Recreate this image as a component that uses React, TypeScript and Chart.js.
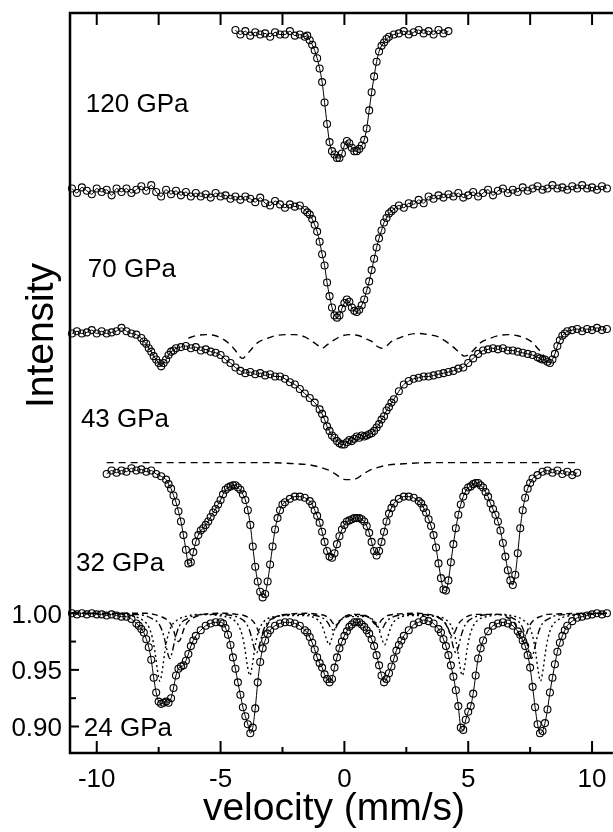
import React, { useEffect, useRef } from 'react';
import { Chart, registerables } from 'chart.js';

Chart.register(...registerables);

const FONT = '"Liberation Sans", Arial, Helvetica, sans-serif';

const X_RANGE = [-11.08, 10.64];
const Y_RANGE = [0.8766, 1.53];
const X_TICKS = [-10, -5, 0, 5, 10];
const X_MINOR = [-7.5, -2.5, 2.5, 7.5];
const Y_TICKS = [1.0, 0.95, 0.9];
const Y_MINOR = [0.975, 0.925];

const LABELS = ['120 GPa', '70 GPa', '43 GPa', '32 GPa', '24 GPa'];
const LABEL_V = [-10.44, -10.36, -10.64, -10.84, -10.52];
const LABEL_I = [1.4514, 1.3049, 1.1724, 1.0461, 0.8996];

// 120 GPa spectrum (velocity mm/s, intensity)
const P120: [number, number][] = [
  [-4.4, 1.515], [-4.2, 1.511], [-4.0, 1.514], [-3.8, 1.510], [-3.6, 1.513], [-3.4, 1.511], [-3.2, 1.512],
  [-3.0, 1.509], [-2.8, 1.513], [-2.6, 1.511], [-2.4, 1.511], [-2.2, 1.514], [-2.0, 1.510], [-1.8, 1.511],
  [-1.6, 1.509], [-1.5, 1.510], [-1.4, 1.506], [-1.3, 1.502], [-1.2, 1.497], [-1.1, 1.490], [-1.0, 1.481],
  [-0.9, 1.469], [-0.8, 1.451], [-0.7, 1.432], [-0.6, 1.416], [-0.5, 1.408], [-0.4, 1.405], [-0.3, 1.402],
  [-0.2, 1.402], [-0.1, 1.406], [0.0, 1.413], [0.1, 1.417], [0.2, 1.415], [0.3, 1.411], [0.4, 1.408],
  [0.5, 1.408], [0.6, 1.410], [0.7, 1.413], [0.8, 1.418], [0.9, 1.428], [1.0, 1.444], [1.1, 1.460],
  [1.2, 1.474], [1.3, 1.487], [1.4, 1.496], [1.5, 1.501], [1.6, 1.504], [1.7, 1.507], [1.8, 1.509],
  [2.0, 1.511], [2.2, 1.512], [2.4, 1.514], [2.6, 1.511], [2.8, 1.513], [3.0, 1.515], [3.2, 1.512],
  [3.4, 1.514], [3.6, 1.511], [3.8, 1.515], [4.0, 1.512], [4.2, 1.514],
];

// 70 GPa spectrum
const P70: [number, number][] = [
  [-11.0, 1.375], [-10.8, 1.371], [-10.6, 1.376], [-10.4, 1.373], [-10.2, 1.370], [-10.0, 1.375], [-9.8, 1.372],
  [-9.6, 1.374], [-9.4, 1.369], [-9.2, 1.375], [-9.0, 1.372], [-8.8, 1.375], [-8.6, 1.371], [-8.4, 1.374],
  [-8.2, 1.377], [-8.0, 1.373], [-7.8, 1.378], [-7.6, 1.372], [-7.4, 1.368], [-7.2, 1.374], [-7.0, 1.370],
  [-6.8, 1.373], [-6.6, 1.369], [-6.4, 1.372], [-6.2, 1.368], [-6.0, 1.371], [-5.8, 1.368], [-5.6, 1.370],
  [-5.4, 1.367], [-5.2, 1.371], [-5.0, 1.368], [-4.8, 1.369], [-4.6, 1.366], [-4.4, 1.368], [-4.2, 1.365],
  [-4.0, 1.368], [-3.8, 1.366], [-3.6, 1.363], [-3.4, 1.367], [-3.2, 1.362], [-3.0, 1.360], [-2.8, 1.364],
  [-2.6, 1.361], [-2.4, 1.358], [-2.2, 1.361], [-2.0, 1.359], [-1.8, 1.360], [-1.6, 1.356], [-1.5, 1.354],
  [-1.4, 1.352], [-1.3, 1.348], [-1.2, 1.343], [-1.1, 1.337], [-1.0, 1.328], [-0.9, 1.317], [-0.8, 1.307],
  [-0.7, 1.292], [-0.6, 1.280], [-0.5, 1.270], [-0.4, 1.263], [-0.3, 1.261], [-0.2, 1.263], [-0.1, 1.269],
  [0.0, 1.274], [0.1, 1.277], [0.2, 1.275], [0.3, 1.270], [0.4, 1.267], [0.5, 1.266], [0.6, 1.268],
  [0.7, 1.272], [0.8, 1.277], [0.9, 1.285], [1.0, 1.293], [1.1, 1.303], [1.2, 1.313], [1.3, 1.323],
  [1.4, 1.331], [1.5, 1.338], [1.6, 1.345], [1.7, 1.349], [1.8, 1.353], [1.9, 1.355], [2.0, 1.357],
  [2.2, 1.360], [2.4, 1.358], [2.6, 1.362], [2.8, 1.361], [3.0, 1.365], [3.2, 1.362], [3.4, 1.368],
  [3.6, 1.366], [3.8, 1.369], [4.0, 1.367], [4.2, 1.370], [4.4, 1.368], [4.6, 1.371], [4.8, 1.367],
  [5.0, 1.369], [5.2, 1.372], [5.4, 1.368], [5.6, 1.371], [5.8, 1.374], [6.0, 1.369], [6.2, 1.373],
  [6.4, 1.375], [6.6, 1.371], [6.8, 1.374], [7.0, 1.372], [7.2, 1.376], [7.4, 1.373], [7.6, 1.375],
  [7.8, 1.377], [8.0, 1.374], [8.2, 1.375], [8.4, 1.378], [8.6, 1.375], [8.8, 1.376], [9.0, 1.374],
  [9.2, 1.377], [9.4, 1.375], [9.6, 1.378], [9.8, 1.375], [10.0, 1.376], [10.2, 1.374], [10.4, 1.377],
  [10.6, 1.375],
];

// 43 GPa spectrum
const P43: [number, number][] = [
  [-11.0, 1.247], [-10.8, 1.249], [-10.6, 1.247], [-10.4, 1.248], [-10.2, 1.250], [-10.0, 1.247], [-9.8, 1.249],
  [-9.6, 1.247], [-9.4, 1.248], [-9.2, 1.249], [-9.0, 1.252], [-8.8, 1.249], [-8.6, 1.247], [-8.4, 1.246],
  [-8.2, 1.243], [-8.1, 1.240], [-8.0, 1.238], [-7.9, 1.234], [-7.8, 1.231], [-7.7, 1.227], [-7.6, 1.224],
  [-7.5, 1.221], [-7.4, 1.218], [-7.3, 1.221], [-7.2, 1.224], [-7.1, 1.228], [-7.0, 1.231], [-6.9, 1.232],
  [-6.8, 1.234], [-6.6, 1.235], [-6.4, 1.236], [-6.2, 1.234], [-6.0, 1.235], [-5.8, 1.232], [-5.6, 1.233],
  [-5.4, 1.231], [-5.2, 1.230], [-5.0, 1.228], [-4.8, 1.224], [-4.6, 1.221], [-4.4, 1.217], [-4.2, 1.214],
  [-4.0, 1.212], [-3.8, 1.213], [-3.6, 1.211], [-3.4, 1.212], [-3.2, 1.210], [-3.0, 1.211], [-2.8, 1.209],
  [-2.6, 1.209], [-2.4, 1.207], [-2.2, 1.204], [-2.0, 1.202], [-1.8, 1.198], [-1.6, 1.194], [-1.4, 1.190],
  [-1.2, 1.186], [-1.0, 1.180], [-0.9, 1.176], [-0.8, 1.171], [-0.7, 1.165], [-0.6, 1.161], [-0.5, 1.157],
  [-0.4, 1.155], [-0.3, 1.152], [-0.2, 1.150], [-0.1, 1.149], [0.0, 1.149], [0.1, 1.151], [0.2, 1.153],
  [0.3, 1.152], [0.4, 1.154], [0.5, 1.156], [0.6, 1.155], [0.7, 1.157], [0.8, 1.156], [0.9, 1.157],
  [1.0, 1.158], [1.1, 1.159], [1.2, 1.161], [1.3, 1.164], [1.4, 1.167], [1.5, 1.171], [1.6, 1.174],
  [1.7, 1.179], [1.8, 1.182], [1.9, 1.186], [2.0, 1.189], [2.2, 1.196], [2.4, 1.202], [2.6, 1.205],
  [2.8, 1.207], [3.0, 1.208], [3.2, 1.209], [3.4, 1.209], [3.6, 1.210], [3.8, 1.211], [4.0, 1.212],
  [4.2, 1.213], [4.4, 1.214], [4.6, 1.216], [4.8, 1.217], [5.0, 1.221], [5.2, 1.225], [5.4, 1.229],
  [5.6, 1.232], [5.8, 1.233], [6.0, 1.234], [6.2, 1.233], [6.4, 1.234], [6.6, 1.232], [6.8, 1.232],
  [7.0, 1.231], [7.2, 1.230], [7.4, 1.229], [7.6, 1.228], [7.8, 1.226], [7.9, 1.225], [8.0, 1.224],
  [8.1, 1.224], [8.2, 1.222], [8.3, 1.221], [8.4, 1.224], [8.5, 1.229], [8.6, 1.236], [8.7, 1.241],
  [8.8, 1.245], [8.9, 1.247], [9.0, 1.249], [9.2, 1.250], [9.4, 1.251], [9.6, 1.249], [9.8, 1.251],
  [10.0, 1.250], [10.2, 1.252], [10.4, 1.250], [10.6, 1.251],
];

// 43 GPa sub-spectrum (dashed)
const D43: [number, number][] = [
  [-6.3, 1.243], [-6.0, 1.245], [-5.6, 1.246], [-5.2, 1.245], [-4.9, 1.242], [-4.6, 1.237], [-4.4, 1.232],
  [-4.2, 1.226], [-4.1, 1.225], [-4.0, 1.227], [-3.8, 1.232], [-3.5, 1.239], [-3.2, 1.242], [-2.8, 1.245],
  [-2.4, 1.246], [-2.0, 1.246], [-1.6, 1.244], [-1.3, 1.240], [-1.1, 1.237], [-0.9, 1.234], [-0.7, 1.237],
  [-0.5, 1.240], [-0.2, 1.244], [0.2, 1.246], [0.6, 1.245], [0.9, 1.242], [1.1, 1.240], [1.3, 1.236],
  [1.5, 1.234], [1.7, 1.236], [1.9, 1.240], [2.2, 1.243], [2.6, 1.246], [3.0, 1.247], [3.4, 1.246],
  [3.8, 1.244], [4.1, 1.240], [4.4, 1.235], [4.65, 1.230], [4.85, 1.227], [5.0, 1.228], [5.2, 1.232],
  [5.5, 1.239], [5.8, 1.242], [6.2, 1.245], [6.6, 1.246], [7.0, 1.245], [7.3, 1.243], [7.6, 1.239],
  [7.8, 1.234], [8.0, 1.229], [8.1, 1.226],
];

// 32 GPa spectrum
const P32: [number, number][] = [
  [-9.6, 1.123], [-9.4, 1.126], [-9.2, 1.124], [-9.0, 1.126], [-8.8, 1.125], [-8.6, 1.128], [-8.4, 1.126],
  [-8.2, 1.127], [-8.0, 1.125], [-7.8, 1.126], [-7.6, 1.123], [-7.4, 1.121], [-7.2, 1.118], [-7.1, 1.114],
  [-7.0, 1.110], [-6.9, 1.104], [-6.8, 1.098], [-6.7, 1.090], [-6.6, 1.081], [-6.5, 1.069], [-6.4, 1.056],
  [-6.3, 1.044], [-6.2, 1.045], [-6.1, 1.054], [-6.0, 1.063], [-5.9, 1.069], [-5.8, 1.073], [-5.7, 1.075],
  [-5.6, 1.078], [-5.5, 1.081], [-5.4, 1.085], [-5.3, 1.089], [-5.2, 1.092], [-5.1, 1.096], [-5.0, 1.100],
  [-4.9, 1.105], [-4.8, 1.109], [-4.7, 1.111], [-4.6, 1.112], [-4.5, 1.113], [-4.4, 1.113], [-4.3, 1.111],
  [-4.2, 1.109], [-4.1, 1.105], [-4.0, 1.100], [-3.9, 1.091], [-3.8, 1.078], [-3.7, 1.059], [-3.6, 1.041],
  [-3.5, 1.028], [-3.4, 1.019], [-3.3, 1.014], [-3.2, 1.017], [-3.1, 1.028], [-3.0, 1.043], [-2.9, 1.059],
  [-2.8, 1.074], [-2.7, 1.084], [-2.6, 1.091], [-2.5, 1.096], [-2.4, 1.098], [-2.2, 1.101], [-2.0, 1.103],
  [-1.8, 1.103], [-1.6, 1.102], [-1.4, 1.099], [-1.3, 1.096], [-1.2, 1.091], [-1.1, 1.086], [-1.0, 1.080],
  [-0.9, 1.072], [-0.8, 1.063], [-0.7, 1.055], [-0.6, 1.050], [-0.5, 1.049], [-0.4, 1.053], [-0.3, 1.061],
  [-0.2, 1.068], [-0.1, 1.074], [0.0, 1.078], [0.1, 1.081], [0.2, 1.082], [0.3, 1.083], [0.4, 1.084],
  [0.5, 1.084], [0.6, 1.084], [0.7, 1.083], [0.8, 1.081], [0.9, 1.077], [1.0, 1.071], [1.1, 1.063],
  [1.2, 1.055], [1.3, 1.051], [1.4, 1.055], [1.5, 1.063], [1.6, 1.072], [1.7, 1.081], [1.8, 1.088],
  [1.9, 1.093], [2.0, 1.097], [2.2, 1.101], [2.4, 1.103], [2.6, 1.103], [2.8, 1.102], [3.0, 1.099],
  [3.1, 1.097], [3.2, 1.093], [3.3, 1.089], [3.4, 1.083], [3.5, 1.077], [3.6, 1.069], [3.7, 1.058],
  [3.8, 1.044], [3.9, 1.031], [4.0, 1.021], [4.1, 1.020], [4.2, 1.029], [4.3, 1.045], [4.4, 1.061],
  [4.5, 1.075], [4.6, 1.087], [4.7, 1.096], [4.8, 1.103], [4.9, 1.108], [5.0, 1.111], [5.1, 1.112],
  [5.2, 1.114], [5.3, 1.115], [5.4, 1.115], [5.5, 1.113], [5.6, 1.111], [5.7, 1.107], [5.8, 1.103],
  [5.9, 1.097], [6.0, 1.092], [6.1, 1.087], [6.2, 1.081], [6.3, 1.073], [6.4, 1.062], [6.5, 1.050],
  [6.6, 1.038], [6.7, 1.029], [6.8, 1.025], [6.9, 1.034], [7.0, 1.053], [7.1, 1.075], [7.2, 1.091],
  [7.3, 1.102], [7.4, 1.110], [7.5, 1.115], [7.6, 1.119], [7.8, 1.122], [8.0, 1.125], [8.2, 1.126],
  [8.4, 1.124], [8.6, 1.126], [8.8, 1.123], [9.0, 1.125], [9.2, 1.122], [9.4, 1.124],
];

// 32 GPa sub-spectrum (dashed)
const D32: [number, number][] = [
  [-9.6, 1.133], [-6.0, 1.133], [-3.0, 1.133], [-2.0, 1.132], [-1.4, 1.131], [-1.0, 1.129], [-0.6, 1.126],
  [-0.3, 1.122], [-0.1, 1.119], [0.1, 1.118], [0.3, 1.118], [0.5, 1.119], [0.7, 1.122], [1.0, 1.126],
  [1.4, 1.129], [1.8, 1.131], [2.4, 1.132], [3.5, 1.133], [6.0, 1.133], [9.4, 1.133],
];

// 24 GPa spectrum
const P24: [number, number][] = [
  [-11.0, 1.000], [-10.8, 0.999], [-10.6, 1.000], [-10.4, 0.999], [-10.2, 1.000], [-10.0, 0.999], [-9.8, 0.999],
  [-9.6, 0.998], [-9.4, 0.999], [-9.2, 0.998], [-9.0, 0.997], [-8.8, 0.997], [-8.6, 0.995], [-8.4, 0.991],
  [-8.3, 0.989], [-8.2, 0.986], [-8.1, 0.983], [-8.0, 0.977], [-7.9, 0.970], [-7.8, 0.959], [-7.7, 0.943],
  [-7.6, 0.930], [-7.5, 0.922], [-7.4, 0.920], [-7.3, 0.921], [-7.2, 0.922], [-7.1, 0.921], [-7.0, 0.925],
  [-6.9, 0.934], [-6.8, 0.945], [-6.7, 0.951], [-6.6, 0.953], [-6.5, 0.954], [-6.4, 0.958], [-6.3, 0.964],
  [-6.2, 0.971], [-6.1, 0.976], [-6.0, 0.980], [-5.8, 0.985], [-5.6, 0.989], [-5.4, 0.991], [-5.2, 0.992],
  [-5.0, 0.992], [-4.9, 0.991], [-4.8, 0.987], [-4.7, 0.981], [-4.6, 0.972], [-4.5, 0.961], [-4.4, 0.951],
  [-4.3, 0.939], [-4.2, 0.928], [-4.1, 0.917], [-4.0, 0.909], [-3.9, 0.902], [-3.8, 0.894], [-3.7, 0.899],
  [-3.6, 0.916], [-3.5, 0.939], [-3.4, 0.957], [-3.3, 0.969], [-3.2, 0.976], [-3.1, 0.982], [-3.0, 0.985],
  [-2.8, 0.989], [-2.6, 0.991], [-2.4, 0.992], [-2.2, 0.992], [-2.0, 0.991], [-1.8, 0.989], [-1.6, 0.985],
  [-1.5, 0.983], [-1.4, 0.979], [-1.3, 0.974], [-1.2, 0.968], [-1.1, 0.961], [-1.0, 0.956], [-0.9, 0.952],
  [-0.8, 0.946], [-0.7, 0.942], [-0.6, 0.939], [-0.5, 0.942], [-0.4, 0.952], [-0.3, 0.961], [-0.2, 0.969],
  [-0.1, 0.975], [0.0, 0.980], [0.1, 0.984], [0.2, 0.988], [0.3, 0.990], [0.4, 0.992], [0.5, 0.992],
  [0.6, 0.992], [0.7, 0.990], [0.8, 0.988], [0.9, 0.985], [1.0, 0.982], [1.1, 0.977], [1.2, 0.971],
  [1.3, 0.963], [1.4, 0.954], [1.5, 0.945], [1.6, 0.939], [1.7, 0.942], [1.8, 0.947], [1.9, 0.953],
  [2.0, 0.960], [2.1, 0.967], [2.2, 0.972], [2.3, 0.976], [2.4, 0.980], [2.6, 0.985], [2.8, 0.990],
  [3.0, 0.992], [3.2, 0.994], [3.4, 0.993], [3.6, 0.991], [3.8, 0.986], [3.9, 0.983], [4.0, 0.977],
  [4.1, 0.971], [4.2, 0.963], [4.3, 0.954], [4.4, 0.944], [4.5, 0.932], [4.6, 0.918], [4.7, 0.899],
  [4.8, 0.897], [4.9, 0.906], [5.0, 0.913], [5.1, 0.918], [5.2, 0.929], [5.3, 0.945], [5.4, 0.960],
  [5.5, 0.969], [5.6, 0.976], [5.8, 0.984], [6.0, 0.989], [6.2, 0.991], [6.4, 0.992], [6.6, 0.991],
  [6.8, 0.989], [7.0, 0.984], [7.1, 0.981], [7.2, 0.976], [7.3, 0.971], [7.4, 0.963], [7.5, 0.952],
  [7.6, 0.935], [7.7, 0.917], [7.8, 0.902], [7.9, 0.894], [8.0, 0.896], [8.1, 0.903], [8.2, 0.915],
  [8.3, 0.930], [8.4, 0.943], [8.5, 0.955], [8.6, 0.966], [8.7, 0.974], [8.8, 0.980], [8.9, 0.985],
  [9.0, 0.989], [9.2, 0.993], [9.4, 0.996], [9.6, 0.997], [9.8, 0.998], [10.0, 0.999], [10.2, 1.000],
  [10.4, 0.999], [10.6, 1.000],
];

// 24 GPa sub-spectra: dotted, dash-dot, dashed
const A24: [number, number][] = [
  [-11.0, 1.000], [-9.0, 0.999], [-8.45, 0.997], [-8.15, 0.994], [-7.9, 0.988], [-7.75, 0.978], [-7.65, 0.966],
  [-7.55, 0.950], [-7.45, 0.940], [-7.35, 0.950], [-7.25, 0.966], [-7.15, 0.978], [-7.0, 0.988], [-6.75, 0.994],
  [-6.45, 0.997], [-5.8, 0.999], [-4.82, 0.997], [-4.52, 0.995], [-4.27, 0.989], [-4.12, 0.980], [-4.02, 0.969],
  [-3.92, 0.954], [-3.82, 0.945], [-3.72, 0.954], [-3.62, 0.969], [-3.52, 0.980], [-3.37, 0.989], [-3.12, 0.995],
  [-2.82, 0.997], [-2.2, 0.998], [-1.62, 0.998], [-1.32, 0.997], [-1.07, 0.994], [-0.92, 0.990], [-0.82, 0.984],
  [-0.72, 0.977], [-0.62, 0.972], [-0.52, 0.977], [-0.42, 0.984], [-0.32, 0.990], [-0.17, 0.994], [0.08, 0.997],
  [0.5, 0.997], [0.92, 0.997], [1.17, 0.994], [1.32, 0.990], [1.42, 0.984], [1.52, 0.977], [1.62, 0.972],
  [1.72, 0.977], [1.82, 0.984], [1.92, 0.990], [2.07, 0.994], [2.32, 0.997], [2.62, 0.998], [3.2, 0.998],
  [3.76, 0.997], [4.06, 0.995], [4.31, 0.989], [4.46, 0.980], [4.56, 0.969], [4.66, 0.954], [4.76, 0.945],
  [4.86, 0.954], [4.96, 0.969], [5.06, 0.980], [5.21, 0.989], [5.46, 0.995], [5.76, 0.997], [6.3, 0.999],
  [6.92, 0.997], [7.22, 0.994], [7.47, 0.988], [7.62, 0.978], [7.72, 0.966], [7.82, 0.950], [7.92, 0.940],
  [8.02, 0.950], [8.12, 0.966], [8.22, 0.978], [8.37, 0.988], [8.62, 0.994], [8.92, 0.997], [9.6, 0.999],
  [10.6, 1.000],
];

const B24: [number, number][] = [
  [-11.0, 1.000], [-8.6, 0.999], [-8.05, 0.998], [-7.75, 0.995], [-7.5, 0.991], [-7.35, 0.984], [-7.25, 0.976],
  [-7.15, 0.966], [-7.05, 0.960], [-6.95, 0.966], [-6.85, 0.976], [-6.75, 0.984], [-6.6, 0.991], [-6.35, 0.995],
  [-6.05, 0.998], [-5.3, 0.999], [-4.55, 0.998], [-4.25, 0.996], [-4.0, 0.992], [-3.85, 0.986], [-3.75, 0.979],
  [-3.65, 0.970], [-3.55, 0.965], [-3.45, 0.970], [-3.35, 0.979], [-3.25, 0.986], [-3.1, 0.992], [-2.85, 0.996],
  [-2.55, 0.998], [-1.8, 0.999], [-1.15, 0.998], [-0.9, 0.996], [-0.75, 0.994], [-0.65, 0.991], [-0.55, 0.987],
  [-0.45, 0.985], [-0.35, 0.987], [-0.25, 0.991], [-0.15, 0.994], [0.0, 0.996], [0.25, 0.998], [0.5, 0.998],
  [0.75, 0.998], [1.0, 0.996], [1.15, 0.994], [1.25, 0.991], [1.35, 0.987], [1.45, 0.985], [1.55, 0.987],
  [1.65, 0.991], [1.75, 0.994], [1.9, 0.996], [2.15, 0.998], [3.0, 0.999], [3.5, 0.998], [3.8, 0.996],
  [4.05, 0.992], [4.2, 0.986], [4.3, 0.979], [4.4, 0.970], [4.5, 0.965], [4.6, 0.970], [4.7, 0.979],
  [4.8, 0.986], [4.95, 0.992], [5.2, 0.996], [5.5, 0.998], [6.2, 0.999], [6.55, 0.998], [6.85, 0.995],
  [7.1, 0.991], [7.25, 0.984], [7.35, 0.976], [7.45, 0.966], [7.55, 0.960], [7.65, 0.966], [7.75, 0.976],
  [7.85, 0.984], [8.0, 0.991], [8.25, 0.995], [8.55, 0.998], [9.3, 0.999], [10.6, 1.000],
];

const C24: [number, number][] = [
  [-11.0, 1.000], [-8.0, 1.000], [-7.7, 0.999], [-7.4, 0.997], [-7.15, 0.994], [-7.0, 0.990], [-6.9, 0.985],
  [-6.8, 0.978], [-6.7, 0.975], [-6.6, 0.978], [-6.5, 0.985], [-6.4, 0.990], [-6.25, 0.994], [-6.0, 0.997],
  [-5.7, 0.999], [-4.8, 1.000], [-4.35, 0.999], [-4.05, 0.998], [-3.8, 0.995], [-3.65, 0.992], [-3.55, 0.988],
  [-3.45, 0.983], [-3.35, 0.980], [-3.25, 0.983], [-3.15, 0.988], [-3.05, 0.992], [-2.9, 0.995], [-2.65, 0.998],
  [-2.35, 0.999], [-1.5, 1.000], [-1.05, 0.999], [-0.8, 0.998], [-0.65, 0.996], [-0.55, 0.994], [-0.45, 0.991],
  [-0.35, 0.990], [-0.25, 0.991], [-0.15, 0.994], [-0.05, 0.996], [0.1, 0.998], [0.4, 0.999], [0.85, 0.998],
  [1.0, 0.996], [1.1, 0.994], [1.2, 0.991], [1.3, 0.990], [1.4, 0.991], [1.5, 0.994], [1.6, 0.996],
  [1.75, 0.998], [2.0, 0.999], [3.0, 1.000], [3.35, 0.999], [3.65, 0.998], [3.9, 0.995], [4.05, 0.992],
  [4.15, 0.988], [4.25, 0.983], [4.35, 0.980], [4.45, 0.983], [4.55, 0.988], [4.65, 0.992], [4.8, 0.995],
  [5.05, 0.998], [5.35, 0.999], [6.2, 0.999], [6.5, 0.997], [6.75, 0.994], [6.9, 0.990], [7.0, 0.985],
  [7.1, 0.978], [7.2, 0.975], [7.3, 0.978], [7.4, 0.985], [7.5, 0.990], [7.65, 0.994], [7.9, 0.997],
  [8.2, 0.999], [10.6, 1.000],
];

const SPECTRA = [P120, P70, P43, P32, P24];

const toXY = (arr: [number, number][]) => arr.map(([x, y]) => ({ x, y }));

const framePlugin = {
  id: 'frame',
  afterDraw(chart: any) {
    const { ctx, chartArea: a, scales } = chart;
    const xs = scales.x;
    const ys = scales.y;
    ctx.save();
    ctx.strokeStyle = '#000';
    ctx.fillStyle = '#000';
    ctx.lineWidth = 2.5;
    ctx.lineJoin = 'miter';
    ctx.lineCap = 'butt';
    ctx.beginPath();
    ctx.moveTo(a.right + 5, a.top);
    ctx.lineTo(a.left, a.top);
    ctx.lineTo(a.left, a.bottom);
    ctx.lineTo(a.right + 5, a.bottom);
    ctx.stroke();
    ctx.lineWidth = 2;
    const seg = (x1: number, y1: number, x2: number, y2: number) => {
      ctx.beginPath();
      ctx.moveTo(x1, y1);
      ctx.lineTo(x2, y2);
      ctx.stroke();
    };
    X_TICKS.forEach((v) => {
      const x = xs.getPixelForValue(v);
      seg(x, a.bottom, x, a.bottom - 12);
      seg(x, a.top, x, a.top + 12);
    });
    X_MINOR.forEach((v) => {
      const x = xs.getPixelForValue(v);
      seg(x, a.bottom, x, a.bottom - 6);
      seg(x, a.top, x, a.top + 12);
    });
    Y_TICKS.forEach((v) => {
      const y = ys.getPixelForValue(v);
      seg(a.left, y, a.left + 9, y);
    });
    Y_MINOR.forEach((v) => {
      const y = ys.getPixelForValue(v);
      seg(a.left, y, a.left + 6, y);
    });
    ctx.font = `26px ${FONT}`;
    ctx.textBaseline = 'alphabetic';
    ctx.textAlign = 'center';
    X_TICKS.forEach((v) => ctx.fillText(String(v), xs.getPixelForValue(v), a.bottom + 34));
    ctx.textAlign = 'right';
    Y_TICKS.forEach((v) => ctx.fillText(v.toFixed(2), a.left - 8, ys.getPixelForValue(v) + 9.5));
    ctx.textAlign = 'left';
    LABELS.forEach((t, i) =>
      ctx.fillText(t, xs.getPixelForValue(LABEL_V[i]), ys.getPixelForValue(LABEL_I[i]) + 9.5)
    );
    ctx.font = `39px ${FONT}`;
    ctx.textAlign = 'center';
    ctx.fillText('velocity (mm/s)', 334, 820);
    ctx.save();
    ctx.translate(53, 335.5);
    ctx.rotate(-Math.PI / 2);
    ctx.fillText('Intensity', 0, 0);
    ctx.restore();
    ctx.restore();
  },
};

export default function App() {
  const ref = useRef<HTMLCanvasElement | null>(null);
  useEffect(() => {
    document.body.style.margin = '0';
    const canvas = ref.current;
    if (!canvas) return;
    const lineDs = (arr: [number, number][], dash: number[] = [], width = 1) => ({
      data: toXY(arr),
      showLine: true,
      borderColor: '#000',
      borderWidth: width,
      borderDash: dash,
      pointRadius: 0,
      fill: false,
      cubicInterpolationMode: 'monotone',
      clip: false,
      order: 1,
    });
    const pointDs = (arr: [number, number][]) => ({
      data: toXY(arr),
      showLine: false,
      pointRadius: 3.5,
      pointBorderWidth: 1.1,
      pointBorderColor: '#000',
      pointBackgroundColor: 'rgba(255,255,255,0)',
      pointStyle: 'circle',
      clip: false,
      order: 2,
    });
    const datasets: any[] = [];
    SPECTRA.forEach((s) => {
      datasets.push(pointDs(s));
      datasets.push(lineDs(s));
    });
    datasets.push(lineDs(D43, [7, 5], 1.4));
    datasets.push(lineDs(D32, [7, 5], 1.4));
    datasets.push(lineDs(A24, [2, 3], 1.4));
    datasets.push(lineDs(B24, [7, 3, 2, 3], 1.4));
    datasets.push(lineDs(C24, [6, 4], 1.4));

    const chart = new Chart(canvas, {
      type: 'scatter',
      data: { datasets },
      options: {
        animation: false,
        responsive: false,
        devicePixelRatio: 1,
        events: [],
        layout: { padding: { left: 70, top: 13, right: 0, bottom: 79 } },
        plugins: { legend: { display: false }, tooltip: { enabled: false } },
        scales: {
          x: { type: 'linear', min: X_RANGE[0], max: X_RANGE[1], display: false },
          y: { type: 'linear', min: Y_RANGE[0], max: Y_RANGE[1], display: false },
        },
      },
      plugins: [framePlugin],
    } as any);
    return () => chart.destroy();
  }, []);
  return (
    <canvas
      ref={ref}
      width={613}
      height={832}
      style={{ display: 'block', width: 613, height: 832, background: '#fff' }}
    />
  );
}
